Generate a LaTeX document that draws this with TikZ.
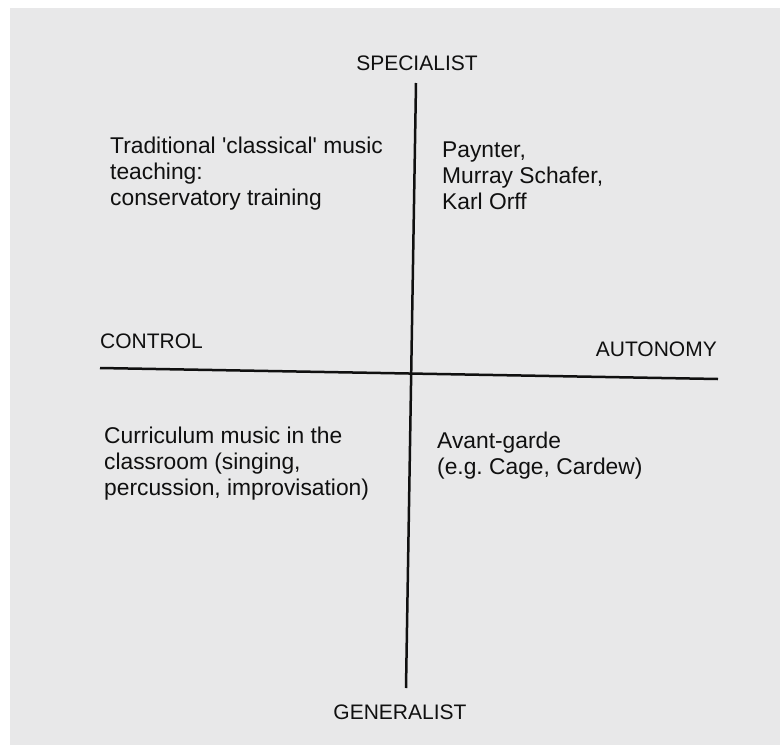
\documentclass[tikz,border=0pt]{standalone}
\usepackage{fontspec}
\setmainfont{Liberation Sans}
\definecolor{paper}{HTML}{E8E8E9}
\definecolor{ink}{HTML}{101010}
\frenchspacing
\begin{document}
\begin{tikzpicture}[x=1pt,y=-1pt,
  txt/.style={font=\fontsize{22.8}{26}\selectfont, text=ink, inner sep=0pt, align=left, anchor=base west},
  axislabel/.style={font=\fontsize{21}{25}\selectfont, text=ink, inner sep=0pt},
  axis/.style={line width=2.5pt, draw=ink}]
\fill[white] (0,0) rectangle (780,745);
\fill[paper] (10,8) rectangle (780,745);
\useasboundingbox (0,0) rectangle (780,745);
% axes
\coordinate (vtop) at (416,83);
\coordinate (vbot) at (406,688);
\coordinate (hleft) at (100,368);
\coordinate (hright) at (718,379);
\draw[axis] (vtop) -- (vbot);
\draw[axis] (hleft) -- (hright);
% axis labels
\node[axislabel, anchor=base] (spec) at (417,70) {SPECIALIST};
\node[axislabel, anchor=base] (gen) at (400,719) {GENERALIST};
\node[axislabel, anchor=base west] (ctrl) at (100,348) {CONTROL};
\node[axislabel, anchor=base east] (auto) at (717,356) {AUTONOMY};
% quadrant texts (base anchor = baseline of the last line)
\node[txt] (tl) at (110,205) {Traditional \textquotesingle classical\textquotesingle\ music\\teaching:\\conservatory training};
\node[txt] (tr) at (442,209) {Paynter,\\Murray Schafer,\\Karl Orff};
\node[txt] (bl) at (104,495) {Curriculum music in the\\classroom (singing,\\percussion, improvisation)};
\node[txt] (br) at (437,474) {Avant-garde\\(e.g. Cage, Cardew)};
\end{tikzpicture}
\end{document}
